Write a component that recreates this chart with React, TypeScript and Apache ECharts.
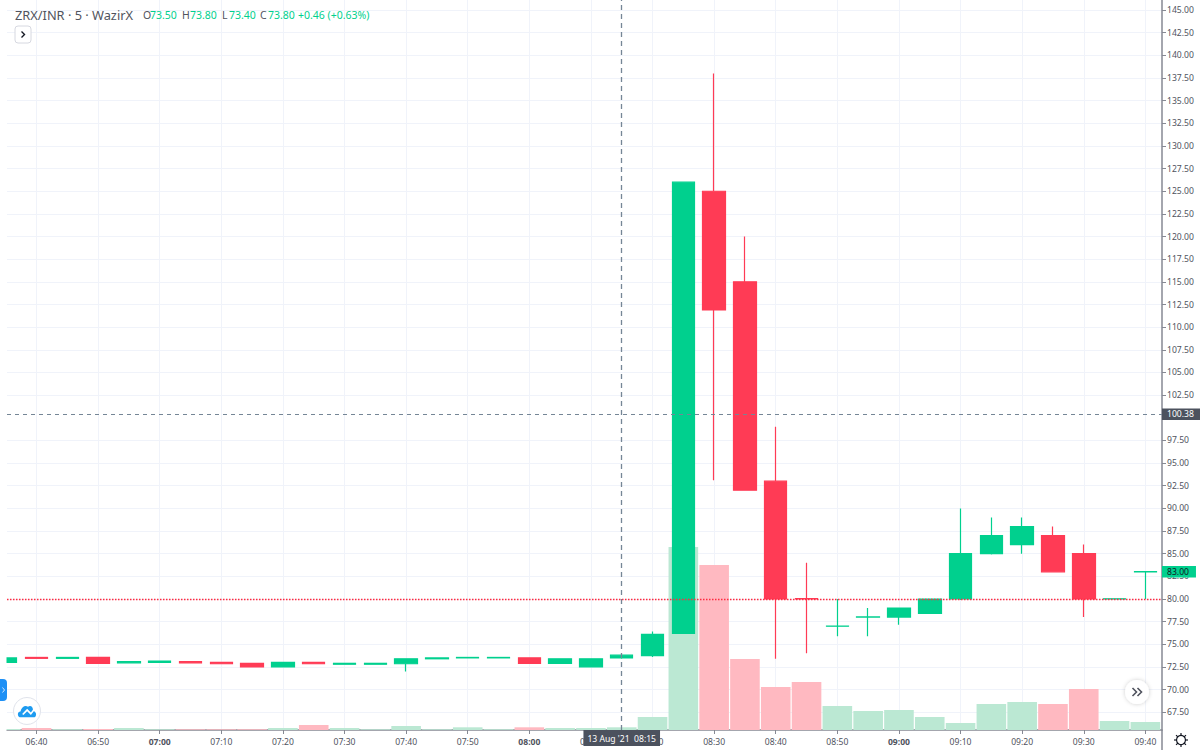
import React, { useEffect, useRef } from "react";
import * as echarts from "echarts";

// minutes since midnight, 5-minute bars on 13 Aug 2021
const times = [395,400,405,410,415,420,425,430,435,440,445,450,455,460,465,470,475,480,485,490,495,500,505,510,515,520,525,530,535,540,545,550,555,560,565,570,575,580];
const opens = [73.0,73.55,73.45,73.55,72.95,73.0,73.1,73.0,72.9,72.5,73.0,72.8,72.8,72.85,73.4,73.5,73.5,73.5,72.9,72.5,73.5,73.75,76.2,125,115,93,80.05,77,78,78,78.4,80,85,86,87,85,80,83];
const closes = [73.5,73.45,73.55,72.9,73.1,73.15,72.95,72.85,72.5,73.0,72.85,72.9,72.9,73.4,73.5,73.55,73.55,72.9,73.4,73.4,73.8,76.1,126,111.9,92,80,80,77.02,78.02,79,80,85,87,88,83,80,80.02,83.02];
const lows = [73.0,73.45,73.45,72.9,72.95,73.0,72.95,72.85,72.5,72.5,72.85,72.8,72.8,72.0,73.4,73.5,73.5,72.9,72.9,72.5,73.4,73.6,76.2,93.1,92,73.4,74,75.9,75.9,77.15,78.4,79.9,84.9,85,83,78,80,80];
const highs = [73.55,73.55,73.55,73.55,73.1,73.15,73.1,73.0,72.9,73.0,73.0,72.9,72.9,73.4,73.5,73.55,73.55,73.5,73.4,73.4,73.8,76.4,126,138,120,99,84,80,79,79,80,90,89,89,88,86,80.02,83.02];
const volumes = [1,2,0.7,1,2,0.7,0.7,0.7,0.7,2,5,2,0.7,4,0.7,2.7,0.7,2.7,2,2,2.7,13,183,165,71,43,48,24,19,20,13,7,26,28,26,41,9,8];
const xTicks = [400,410,420,430,440,450,460,470,480,490,500,510,520,530,540,550,560,570,580];
const yGrid = [67.5,70,72.5,75,77.5,80,82.5,85,87.5,90,92.5,95,97.5,100,102.5,105,107.5,110,112.5,115,117.5,120,122.5,125,127.5,130,132.5,135,137.5,140,142.5,145];
const yLabels = [67.5,70,72.5,75,77.5,80,82.5,85,87.5,90,92.5,95,97.5,102.5,105,107.5,110,112.5,115,117.5,120,122.5,125,127.5,130,132.5,135,137.5,140,142.5,145];
const crossTime = 495;
const crossPrice = 100.38;
const alertPrice = 80;
const lastPrice = 83;

const GREEN = "#00d08e";
const RED = "#ff3b55";
const TEXT = "#50535e";
const AXIS = "#868993";
const FONT = "'Noto Sans', sans-serif";

const clock = (m: number) =>
  String(Math.floor(m / 60)).padStart(2, "0") + ":" + String(m % 60).padStart(2, "0");

echarts.graphic.registerShape(
  "cloudLogo",
  echarts.graphic.extendPath(
    "M2 14 C-1 13 -1 8 3 8 C4 3 9 1 12 3 C15 1 18 3 18 6 L15.5 9 L11 5 L5 10.5 L6.5 11.5 L11 7.5 L15.5 11.5 L19 7.5 C22 8 23 12 20 14 Z",
    {}
  )
);

const headerItem = (x: number, text: string, color: string, fontSize = 10.5) => ({
  type: "text",
  x,
  y: 15,
  z: 20,
  style: { text, fill: color, font: `${fontSize}px ${FONT}`, textVerticalAlign: "middle" },
});

const gearSpokes = [0, 45, 90, 135, 180, 225, 270, 315].map((deg) => {
  const a = (deg * Math.PI) / 180;
  return {
    type: "line",
    z: 20,
    shape: {
      x1: 1181 + Math.cos(a) * 4.5,
      y1: 740 + Math.sin(a) * 4.5,
      x2: 1181 + Math.cos(a) * 7,
      y2: 740 + Math.sin(a) * 7,
    },
    style: { stroke: "#131722", lineWidth: 1.2 },
  };
});

const guideLine = (key: any, color: string, dash: any, width: number, label: any) => ({
  type: "line",
  data: [],
  z: 5,
  silent: true,
  markLine: {
    silent: true,
    symbol: "none",
    animation: false,
    z: 5,
    lineStyle: { color, type: dash, width },
    label,
    data: [key],
  },
});

const priceTag = (text: string, bg: string, color: string) => ({
  show: true,
  position: "end",
  distance: 0,
  formatter: text,
  backgroundColor: bg,
  color,
  fontSize: 8.6,
  fontFamily: FONT,
  padding: [1.5, 7, 1, 5],
});

export default function App() {
  const ref = useRef<HTMLDivElement>(null);
  useEffect(() => {
    const chart = echarts.init(ref.current!, undefined, { renderer: "svg" });
    const isUp = (i: number) => closes[i] >= opens[i];
    const option: any = {
      animation: false,
      backgroundColor: "#ffffff",
      textStyle: { fontFamily: FONT },
      grid: { left: 7, right: 38, top: 0, bottom: 20, containLabel: false, outerBoundsMode: "none" },
      xAxis: {
        type: "value",
        min: 395.21,
        max: 582.7,
        axisLine: { onZero: false, lineStyle: { color: AXIS, width: 1.5 } },
        axisTick: { length: 4, customValues: xTicks, lineStyle: { color: AXIS } },
        axisLabel: {
          customValues: xTicks,
          margin: 7,
          fontSize: 8.6,
          color: TEXT,
          fontFamily: FONT,
          formatter: (v: number) => (v % 60 === 0 ? `{b|${clock(v)}}` : clock(v)),
          rich: { b: { fontWeight: "bold", fontSize: 8.6, color: TEXT, fontFamily: FONT } },
        },
        splitLine: { show: true, customValues: xTicks, lineStyle: { color: "#f0f3fa", width: 1 } },
      },
      yAxis: [
        {
          type: "value",
          position: "right",
          min: 65.54,
          max: 146.11,
          axisLine: { show: true, onZero: false, lineStyle: { color: AXIS, width: 1.5 } },
          axisTick: { show: true, length: 4, customValues: yLabels, lineStyle: { color: AXIS } },
          axisLabel: {
            customValues: yLabels,
            margin: 5,
            fontSize: 8.6,
            color: TEXT,
            fontFamily: FONT,
            formatter: (v: number) => v.toFixed(2),
          },
          splitLine: { show: true, customValues: yGrid, lineStyle: { color: "#f0f3fa", width: 1 } },
        },
        { type: "value", min: 0, max: 730, show: false, splitLine: { show: false } },
      ],
      series: [
        {
          type: "bar",
          yAxisIndex: 1,
          barWidth: 29.6,
          z: 1,
          silent: true,
          data: times.map((t, i) => ({
            value: [t, volumes[i]],
            itemStyle: { color: isUp(i) ? "#bbe8d3" : "#ffb9c1" },
          })),
        },
        {
          type: "candlestick",
          yAxisIndex: 0,
          barWidth: 23,
          z: 3,
          clip: true,
          itemStyle: {
            color: GREEN,
            color0: RED,
            borderColor: GREEN,
            borderColor0: RED,
            borderWidth: 1.2,
          },
          data: times.map((t, i) => [t, opens[i], closes[i], lows[i], highs[i]]),
        },
        guideLine({ yAxis: alertPrice }, "#ff2a40", [1.5, 1.5], 1.3, { show: false }),
        guideLine({ yAxis: crossPrice }, "#758696", [4, 4], 1.2, priceTag(crossPrice.toFixed(2), "#4c525e", "#ffffff")),
        guideLine({ yAxis: lastPrice }, "rgba(0,0,0,0)", "solid", 1, priceTag(lastPrice.toFixed(2), GREEN, "#131722")),
        guideLine({ xAxis: crossTime }, "#758696", [5, 4], 1.3, {
          show: true,
          position: "start",
          distance: 0,
          formatter: "13 Aug '21  " + clock(crossTime),
          backgroundColor: "#4c525e",
          color: "#ffffff",
          fontSize: 8.6,
          fontFamily: FONT,
          padding: [4, 4, 3, 4],
        }),
      ],
      graphic: [
        {
          type: "rect",
          z: 15,
          shape: { x: 0, y: 0, width: 6.5, height: 730 },
          style: { fill: "#ffffff" },
        },
        headerItem(15, "ZRX/INR · 5 · WazirX", TEXT, 12.8),
        headerItem(143, "O", TEXT),
        headerItem(150, "73.50", GREEN),
        headerItem(182, "H", TEXT),
        headerItem(190, "73.80", GREEN),
        headerItem(222, "L", TEXT),
        headerItem(229, "73.40", GREEN),
        headerItem(260, "C", TEXT),
        headerItem(268, "73.80", GREEN),
        headerItem(298, "+0.46 (+0.63%)", GREEN),
        {
          type: "rect",
          z: 20,
          shape: { x: 15, y: 26, width: 16, height: 17, r: 3 },
          style: { fill: "#ffffff", stroke: "#d6d8e0", lineWidth: 1 },
        },
        {
          type: "polyline",
          z: 21,
          shape: { points: [[21.5, 31.5], [24.5, 34.5], [21.5, 37.5]] },
          style: { fill: "none", stroke: "#131722", lineWidth: 1.4 },
        },
        {
          type: "rect",
          z: 20,
          shape: { x: -5, y: 679, width: 12, height: 22, r: 4 },
          style: { fill: "#1e90f5" },
        },
        {
          type: "polyline",
          z: 21,
          shape: { points: [[2.5, 687.5], [4.5, 690], [2.5, 692.5]] },
          style: { fill: "none", stroke: "#cfe6ff", lineWidth: 1 },
        },
        {
          type: "circle",
          z: 20,
          shape: { cx: 27, cy: 711, r: 13.5 },
          style: { fill: "#ffffff", stroke: "#e0e3eb", lineWidth: 1 },
        },
        { type: "cloudLogo", z: 21, x: 18, y: 704, scaleX: 0.83, scaleY: 0.95, style: { fill: "#1e9bf0" } },
        {
          type: "circle",
          z: 20,
          shape: { cx: 1137, cy: 692, r: 12 },
          style: { fill: "#ffffff", shadowBlur: 4, shadowColor: "rgba(0,0,0,0.2)" },
        },
        {
          type: "polyline",
          z: 21,
          shape: { points: [[1132.5, 688], [1136.5, 692], [1132.5, 696]] },
          style: { fill: "none", stroke: TEXT, lineWidth: 1.6 },
        },
        {
          type: "polyline",
          z: 21,
          shape: { points: [[1137.5, 688], [1141.5, 692], [1137.5, 696]] },
          style: { fill: "none", stroke: TEXT, lineWidth: 1.6 },
        },
        {
          type: "line",
          z: 20,
          shape: { x1: 1162, y1: 730, x2: 1162, y2: 750 },
          style: { stroke: AXIS, lineWidth: 1.5 },
        },
        {
          type: "circle",
          z: 20,
          shape: { cx: 1181, cy: 740, r: 4.5 },
          style: { fill: "none", stroke: "#131722", lineWidth: 1.2 },
        },
        ...gearSpokes,
      ],
    };
    chart.setOption(option);
    return () => chart.dispose();
  }, []);
  return <div ref={ref} style={{ position: "fixed", left: 0, top: 0, width: 1200, height: 750 }} />;
}
